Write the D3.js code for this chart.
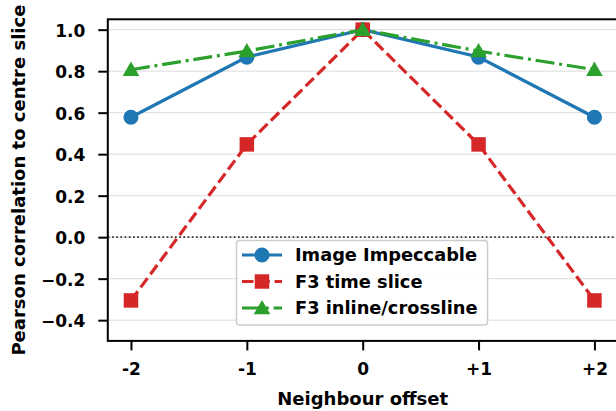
<!DOCTYPE html>
<html><head><meta charset="utf-8">
<script src="https://cdn.jsdelivr.net/npm/d3@7"></script>
<style>body{margin:0;background:#fff;}svg{display:block;font-family:"DejaVu Sans",sans-serif;font-weight:bold;}</style>
</head><body><svg id="c" width="616" height="411"></svg>
<script>
const offsets = [-2, -1, 0, 1, 2];
const offsetLabels = ["-2", "-1", "0", "+1", "+2"];
const imageImpeccable = [0.578, 0.868, 1.0, 0.868, 0.578];
const f3TimeSlice = [-0.305, 0.447, 1.0, 0.447, -0.305];
const f3InlineCrossline = [0.807, 0.897, 1.0, 0.897, 0.807];
const yTicks = [-0.4, -0.2, 0.0, 0.2, 0.4, 0.6, 0.8, 1.0];
const seriesNames = ["Image Impeccable", "F3 time slice", "F3 inline/crossline"];

const W = 616, H = 411;
const L = 107.8, R = 617.6, T = 19.3, B = 340.9;
const svg = d3.select("#c");
const x = d3.scaleLinear().domain([-2.2, 2.2]).range([L, R]);
const y = d3.scaleLinear().domain([-0.5, 1.05]).range([B, T]);

// grid
svg.append("g").selectAll("line").data(yTicks).join("line")
  .attr("x1", L).attr("x2", R).attr("y1", d => y(d)).attr("y2", d => y(d))
  .attr("stroke", "#dcdcdc").attr("stroke-width", 1);

// zero line
svg.append("line").attr("x1", L).attr("x2", R).attr("y1", y(0)).attr("y2", y(0))
  .attr("stroke", "#333").attr("stroke-width", 1.7).attr("stroke-dasharray", "1.7,2.5");

const series = [
  {name: seriesNames[0], vals: imageImpeccable, color: "#1f77b4", dash: null, marker: "circle"},
  {name: seriesNames[1], vals: f3TimeSlice, color: "#d62728", dash: "11.5,4.8", marker: "square"},
  {name: seriesNames[2], vals: f3InlineCrossline, color: "#2ca02c", dash: "19,4.8,3,4.8", marker: "triangle"}
];
const sym = {
  circle: d3.symbol(d3.symbolCircle, 180),
  square: d3.symbol(d3.symbolSquare, 210),
  triangle: d3.symbol(d3.symbolTriangle, 120)
};
const line = d3.line().x(d => x(d[0])).y(d => y(d[1]));
series.forEach(s => {
  const pts = offsets.map((o, i) => [o, s.vals[i]]);
  const g = svg.append("g");
  g.append("path").attr("d", line(pts)).attr("fill", "none")
    .attr("stroke", s.color).attr("stroke-width", 3.2)
    .attr("stroke-dasharray", s.dash);
  g.selectAll("path.m").data(pts).join("path").attr("class", "m")
    .attr("d", sym[s.marker]())
    .attr("transform", d => `translate(${x(d[0])},${y(d[1]) + (s.marker === "triangle" ? 1.5 : 0)})`)
    .attr("fill", s.color);
});

// axes
const yAxis = svg.append("g").attr("transform", `translate(${L},0)`)
  .call(d3.axisLeft(y).tickValues(yTicks).tickSize(9.5).tickPadding(13)
    .tickFormat(d => (d < 0 ? "\u2212" : "") + Math.abs(d).toFixed(1)));
const xAxis = svg.append("g").attr("transform", `translate(0,${B})`)
  .call(d3.axisBottom(x).tickValues(offsets).tickSize(9.5).tickPadding(13)
    .tickFormat((d, i) => offsetLabels[i]));
[yAxis, xAxis].forEach(a => {
  a.select(".domain").remove();
  a.selectAll(".tick line").attr("stroke", "#000").attr("stroke-width", 2);
  a.selectAll("text").attr("font-size", 17).attr("font-weight", "bold").attr("fill", "#000")
    .attr("font-family", "DejaVu Sans");
});
yAxis.selectAll("text").attr("dy", "0.38em");

// frame
svg.append("rect").attr("x", L).attr("y", T).attr("width", R - L).attr("height", B - T)
  .attr("fill", "none").attr("stroke", "#000").attr("stroke-width", 2);

// labels
svg.append("text").attr("x", (L + R) / 2).attr("y", 405).attr("text-anchor", "middle")
  .attr("font-size", 18).text("Neighbour offset");
svg.append("text").attr("transform", `translate(24.5,${(T + B) / 2}) rotate(-90)`)
  .attr("text-anchor", "middle").attr("font-size", 18).text("Pearson correlation to centre slice");

// legend
const lg = svg.append("g");
lg.append("rect").attr("x", 236.5).attr("y", 240.5).attr("width", 251).attr("height", 84.5)
  .attr("rx", 3).attr("fill", "#fff").attr("fill-opacity", 0.85)
  .attr("stroke", "#cccccc").attr("stroke-width", 1.5);
const rows = [255, 281.5, 308];
series.forEach((s, i) => {
  const ry = rows[i];
  lg.append("line").attr("x1", 242).attr("x2", 282).attr("y1", ry).attr("y2", ry)
    .attr("stroke", s.color).attr("stroke-width", 3.2).attr("stroke-dasharray", s.dash);
  lg.append("path").attr("d", sym[s.marker]())
    .attr("transform", `translate(262,${ry + (s.marker === "triangle" ? 1.5 : 0)})`).attr("fill", s.color);
  lg.append("text").attr("x", 295).attr("y", ry).attr("dy", "0.36em")
    .attr("font-size", 17.8).text(s.name);
});
</script></body></html>
